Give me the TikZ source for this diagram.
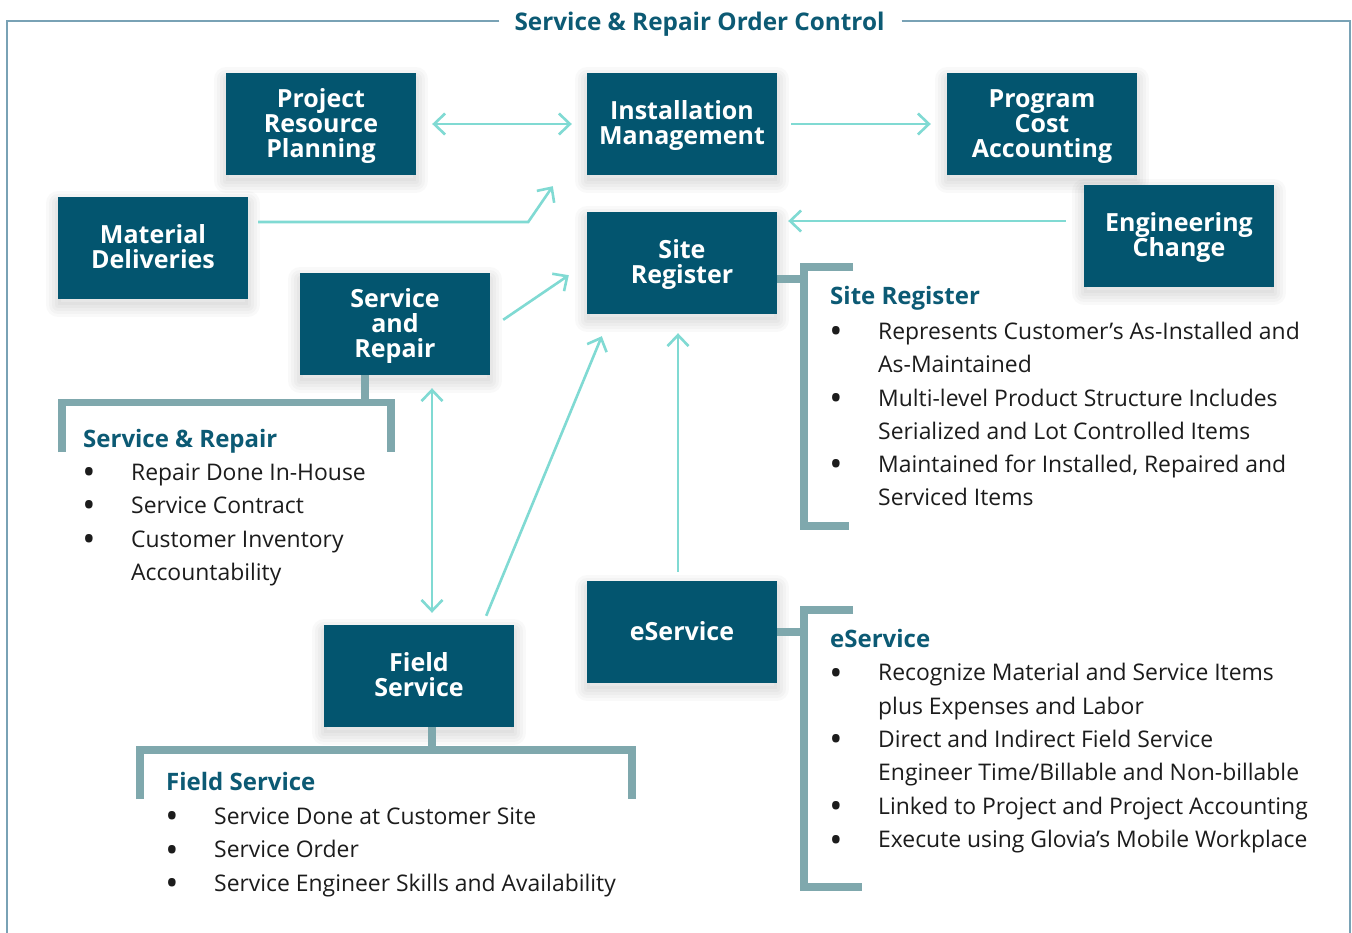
\documentclass[tikz,border=0pt]{standalone}
\usepackage{fontspec}
\setmainfont{Open Sans}
\usetikzlibrary{arrows.meta}
\definecolor{boxc}{HTML}{03556F}
\definecolor{ttlc}{HTML}{0C5A74}
\definecolor{arrc}{HTML}{80DAD3}
\definecolor{brkc}{HTML}{7FA8AD}
\definecolor{frmc}{HTML}{79A2B5}
\definecolor{txtc}{HTML}{1C1C1C}
\newcommand\boxtop{\rule{0pt}{23pt}}
\newcommand\boxbot{\rule[-6.5pt]{0pt}{6.5pt}}
\tikzset{
  shl/.style={preaction={draw=black, draw opacity=0.025, line width=#1, line join=round,
    transform canvas={yshift=-6pt}}},
  shf/.style={preaction={fill=black, fill opacity=0.025, transform canvas={yshift=-6pt}}},
  box/.style={fill=boxc, text=white, minimum width=190pt, minimum height=102pt,
    inner sep=0pt, align=center, font=\fontsize{25}{25}\selectfont\bfseries,
    shl=24pt, shl=18pt, shl=12pt, shl=6pt, shf},
  arr/.style={draw=arrc, line width=2.6pt, -{Straight Barb[length=11pt,width=21pt]}},
  darr/.style={draw=arrc, line width=2.6pt, {Straight Barb[length=11pt,width=21pt]}-{Straight Barb[length=11pt,width=21pt]}},
  brk/.style={draw=brkc, line width=7.5pt, line cap=butt, line join=miter},
  frm/.style={draw=frmc, line width=1.4pt},
  hd/.style={anchor=base west, inner sep=0pt, text=ttlc, font=\fontsize{24}{24}\selectfont\bfseries},
  tx/.style={anchor=base west, inner sep=0pt, text=txtc, font=\fontsize{22.9}{22.9}\selectfont},
  bl/.style={anchor=base, inner sep=0pt, yshift=-4.5pt, text=txtc, font=\fontsize{35}{35}\selectfont},
}
\begin{document}
\begin{tikzpicture}[x=1pt,y=-1pt]
\useasboundingbox[fill=white] (0,0) rectangle (1352,932);
% title and frame
\node[anchor=base, inner sep=0pt, text=ttlc, font=\fontsize{24.3}{24.3}\selectfont\bfseries] (ttl) at (699.5,30) {Service \& Repair Order Control};
\draw[frm] ([xshift=-15pt]ttl.west |- 0,21) -| (7,940);
\draw[frm] ([xshift=17pt]ttl.east |- 0,21) -| (1350,940);
% boxes
\node[box] (prp) at (321,124) {\boxtop Project\\Resource\\Planning\boxbot};
\node[box] (im)  at (682,124) {\boxtop Installation\\Management\boxbot};
\node[box] (pca) at (1042,124) {\boxtop Program\\Cost\\Accounting\boxbot};
\node[box] (md)  at (153,248) {\boxtop Material\\Deliveries\boxbot};
\node[box] (sr)  at (682,263) {\boxtop Site\\Register\boxbot};
\node[box] (ec)  at (1179,236) {\boxtop Engineering\\Change\boxbot};
\node[box] (sar) at (395,324) {\boxtop Service\\and\\Repair\boxbot};
\node[box] (es)  at (682,632) {\boxtop eService\boxbot};
\node[box] (fs)  at (419,676) {\boxtop Field\\Service\boxbot};
% connectors
\draw[darr] ([xshift=16pt]prp.east) -- ([xshift=-15pt]im.west);
\draw[arr] ([xshift=14pt]im.east) -- ([xshift=-16pt]pca.west);
\draw[arr] ([shift={(10,-26)}]md.east) -- ++(270,0) -- ([shift={(-34,11)}]im.south west);
\draw[arr] ([shift={(-18,-15)}]ec.west) -- ([shift={(11,-42)}]sr.east);
\draw[arr] ([shift={(13,47)}]sar.north east) -- ([shift={(-18,-39)}]sr.south west);
\draw[arr] ([shift={(-28,-9)}]fs.north east) -- ([shift={(15,22)}]sr.south west);
\draw[arr] ([shift={(-4,-9)}]es.north) -- ([shift={(-4,19)}]sr.south);
\draw[darr] ([shift={(37,13)}]sar.south) -- ([shift={(13,-12)}]fs.north);
% brackets
\draw[brk] ([xshift=-30pt]sar.south) -- ++(0,28);
\draw[brk] (62,452) -- (62,402.5) -- (391,402.5) -- (391,452);
\draw[brk] ([yshift=-16pt]sr.east) -- ++(27,0);
\draw[brk] (853,267) -- (804,267) -- (804,526) -- (849,526);
\draw[brk] (es.east) -- ++(27,0);
\draw[brk] (853,610) -- (804,610) -- (804,887) -- (862,887);
\draw[brk] ([xshift=13pt]fs.south) -- ++(0,24);
\draw[brk] (140,799) -- (140,750) -- (632,750) -- (632,799);
% Site Register list
\node[hd] (srh) at (830,304.3) {Site Register};
\node[bl] (srb1) at (836,339.3) {•};
\node[tx] (srt1) at (878,339.3) {Represents Customer’s As-Installed and};
\node[tx] (srt1b) at (878,372) {As-Maintained};
\node[bl] (srb2) at (836,406) {•};
\node[tx] (srt2) at (878,406) {Multi-level Product Structure Includes};
\node[tx] (srt2b) at (878,439) {Serialized and Lot Controlled Items};
\node[bl] (srb3) at (836,472) {•};
\node[tx] (srt3) at (878,472) {Maintained for Installed, Repaired and};
\node[tx] (srt3b) at (878,505.7) {Serviced Items};
% Service & Repair list
\node[hd] (sah) at (83,447.3) {Service \& Repair};
\node[bl] (sab1) at (89,480) {•};
\node[tx] (sat1) at (131,480) {Repair Done In-House};
\node[bl] (sab2) at (89,513.3) {•};
\node[tx] (sat2) at (131,513.3) {Service Contract};
\node[bl] (sab3) at (89,547.3) {•};
\node[tx] (sat3) at (131,547.3) {Customer Inventory};
\node[tx] (sat3b) at (131,580) {Accountability};
% Field Service list
\node[hd] (fsh) at (166,790.7) {Field Service};
\node[bl] (fsb1) at (172,824.3) {•};
\node[tx] (fst1) at (214,824.3) {Service Done at Customer Site};
\node[bl] (fsb2) at (172,857.7) {•};
\node[tx] (fst2) at (214,857.7) {Service Order};
\node[bl] (fsb3) at (172,891) {•};
\node[tx] (fst3) at (214,891) {Service Engineer Skills and Availability};
% eService list
\node[hd] (esh) at (830,647.7) {eService};
\node[bl] (esb1) at (836,680.7) {•};
\node[tx] (est1) at (878,680.7) {Recognize Material and Service Items};
\node[tx] (est1b) at (878,714) {plus Expenses and Labor};
\node[bl] (esb2) at (836,747.3) {•};
\node[tx] (est2) at (878,747.3) {Direct and Indirect Field Service};
\node[tx] (est2b) at (878,780.7) {Engineer Time/Billable and Non-billable};
\node[bl] (esb3) at (836,814) {•};
\node[tx] (est3) at (878,814) {Linked to Project and Project Accounting};
\node[bl] (esb4) at (836,847.7) {•};
\node[tx] (est4) at (878,847.7) {Execute using Glovia’s Mobile Workplace};
\end{tikzpicture}
\end{document}
